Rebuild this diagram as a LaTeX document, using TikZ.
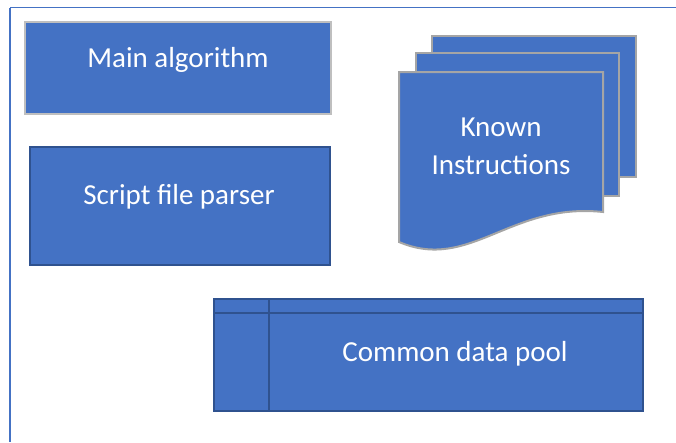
\documentclass[tikz,border=0pt]{standalone}
\usepackage{fontspec}
\setmainfont{Carlito}
\definecolor{boxblue}{HTML}{4472C4}
\definecolor{edgeblue}{HTML}{2F528F}
\definecolor{edgegray}{HTML}{A5A5A5}
\definecolor{lightgray}{HTML}{BFBFBF}
\tikzset{
  frameline/.style={draw=boxblue, line width=1.8pt},
  blockbox/.style={fill=boxblue, draw=edgeblue, line width=1.5pt},
  graybox/.style={fill=boxblue, draw=lightgray, line width=2pt},
  pagebox/.style={fill=boxblue, draw=edgegray, line width=2pt},
  label/.style={text=white, font=\fontsize{29}{38}\selectfont, align=center, inner sep=0pt}
}
\begin{document}
\begin{tikzpicture}[x=1pt, y=-1pt]
  \useasboundingbox (0,0) rectangle (676,442);
  % outer frame (top and left edges only)
  \draw[frameline] (10,7.5) -- (676,7.5);
  \draw[frameline] (10,7.5) -- (10,442);

  % Main algorithm
  \draw[graybox] (25,22) rectangle (331,114);
  \node[label, anchor=base] (main) at (178,67) {Main algorithm};

  % Script file parser
  \draw[blockbox] (30,147) rectangle (330,265);
  \node[label, anchor=base] (parser) at (179,204) {Script file parser};

  % Known instructions: stack of three pages
  \draw[pagebox] (432,36) rectangle (636,177);
  \draw[pagebox] (416,53) rectangle (619,196);
  \draw[pagebox] (399,72) -- (603,72) -- (603,212)
      .. controls (510,202) and (470,272) .. (399,242) -- cycle;
  \node[label, anchor=base] (known) at (501,174) {Known\\Instructions};

  % Common data pool
  \draw[blockbox] (214,299) rectangle (643,411);
  \draw[edgeblue, line width=1.5pt] (214,313) -- (643,313);
  \draw[edgeblue, line width=1.5pt] (269,299) -- (269,411);
  \node[label, anchor=base] (pool) at (455,361) {Common data pool};
\end{tikzpicture}
\end{document}
